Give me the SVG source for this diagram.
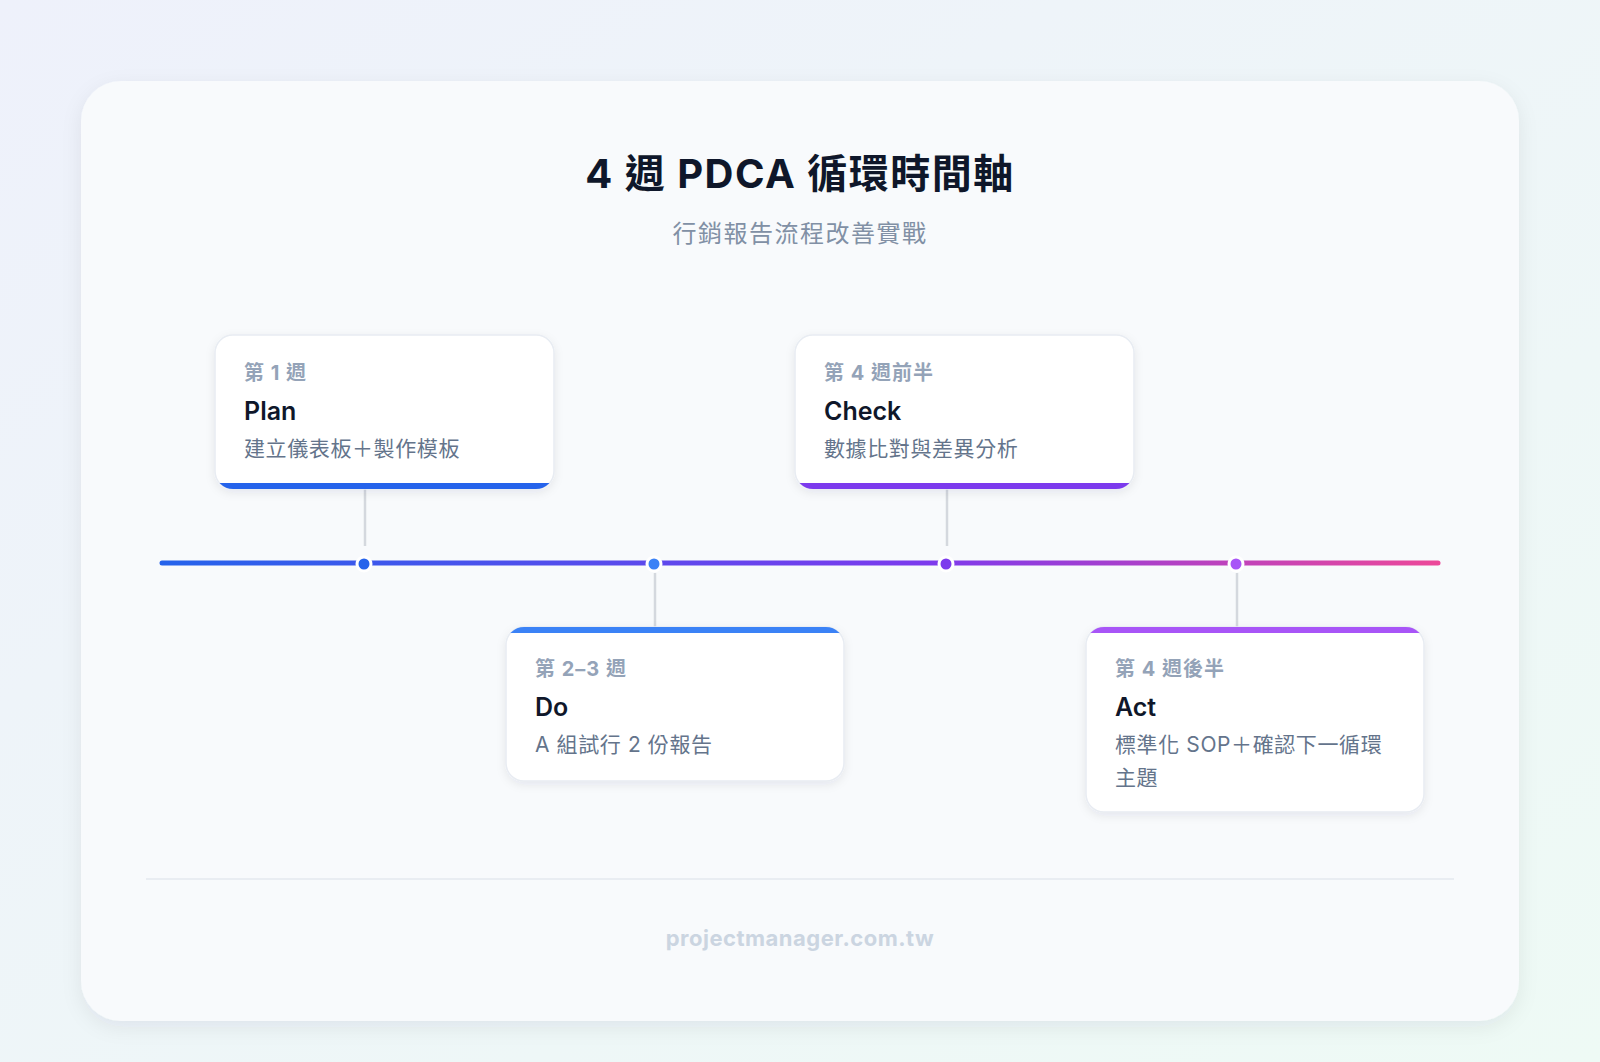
<svg xmlns="http://www.w3.org/2000/svg" width="1600" height="1062" viewBox="0 0 1600 1062">
<defs>
<linearGradient id="bg" x1="0" y1="0" x2="1" y2="1"><stop offset="0" stop-color="#eef1fb"/><stop offset="1" stop-color="#eefaf5"/></linearGradient>
<linearGradient id="tl" x1="162" y1="0" x2="1438" y2="0" gradientUnits="userSpaceOnUse"><stop offset="0" stop-color="#2563eb"/><stop offset="0.6" stop-color="#7c3aed"/><stop offset="1" stop-color="#ec4899"/></linearGradient>
<filter id="sh" x="-10%" y="-10%" width="120%" height="130%"><feDropShadow dx="0" dy="6" stdDeviation="10" flood-color="#1e293b" flood-opacity="0.07"/></filter>
<filter id="sh2" x="-10%" y="-10%" width="120%" height="130%"><feDropShadow dx="0" dy="3" stdDeviation="5" flood-color="#1e293b" flood-opacity="0.08"/></filter>
<clipPath id="c1"><rect x="215" y="335" width="339" height="154" rx="18"/></clipPath>
<clipPath id="c2"><rect x="506" y="627" width="338" height="154" rx="18"/></clipPath>
<clipPath id="c3"><rect x="795" y="335" width="339" height="154" rx="18"/></clipPath>
<clipPath id="c4"><rect x="1086" y="627" width="338" height="185" rx="18"/></clipPath>
</defs>
<style>
text{font-family:"Inter","Noto Sans CJK TC",sans-serif}
.card{fill:#fff;stroke:#e8ecf2;stroke-width:1.5}
.lab{font-size:20px;font-weight:700;fill:#94a3b8;letter-spacing:1px}
.ttl{font-size:25px;font-weight:600;fill:#0f172a}
.dsc{font-size:21px;fill:#64748b;letter-spacing:0.6px}
.stem{stroke:#d4d8de;stroke-width:2.5}
.dot{stroke:#fff;stroke-width:3}
</style>
<rect width="1600" height="1062" fill="url(#bg)"/>
<rect x="81" y="81" width="1438" height="940" rx="40" fill="#f8fafc" filter="url(#sh)"/>
<text x="800" y="188" text-anchor="middle" font-size="40" font-weight="700" fill="#0f172a" letter-spacing="1.5">4 週 PDCA 循環時間軸</text>
<text x="800" y="242" text-anchor="middle" font-size="24" fill="#8190a5" letter-spacing="1.5">行銷報告流程改善實戰</text>
<g id="connectors">
<line class="stem" x1="365" y1="489" x2="365" y2="546"/>
<line class="stem" x1="655" y1="573" x2="655" y2="627"/>
<line class="stem" x1="947" y1="489" x2="947" y2="546"/>
<line class="stem" x1="1237" y1="573" x2="1237" y2="627"/>
<line x1="162" y1="563" x2="1438" y2="563" stroke="url(#tl)" stroke-width="5" stroke-linecap="round"/>
<circle class="dot" cx="364" cy="564" r="7" fill="#2563eb"/>
<circle class="dot" cx="654" cy="564" r="7" fill="#3b82f6"/>
<circle class="dot" cx="946" cy="564" r="7" fill="#7c3aed"/>
<circle class="dot" cx="1236" cy="564" r="7" fill="#a855f7"/>
</g>
<g id="plan">
<rect class="card" x="215" y="335" width="339" height="154" rx="18" filter="url(#sh2)"/>
<rect x="215" y="483" width="339" height="6" fill="#2563eb" clip-path="url(#c1)"/>
<text class="lab" x="244" y="380">第 1 週</text>
<text class="ttl" x="244" y="420">Plan</text>
<text class="dsc" x="244" y="456">建立儀表板＋製作模板</text>
</g>
<g id="do">
<rect class="card" x="506" y="627" width="338" height="154" rx="18" filter="url(#sh2)"/>
<rect x="506" y="627" width="338" height="6" fill="#3b82f6" clip-path="url(#c2)"/>
<text class="lab" x="535" y="676">第 2–3 週</text>
<text class="ttl" x="535" y="716">Do</text>
<text class="dsc" x="535" y="752">A 組試行 2 份報告</text>
</g>
<g id="check">
<rect class="card" x="795" y="335" width="339" height="154" rx="18" filter="url(#sh2)"/>
<rect x="795" y="483" width="339" height="6" fill="#7c3aed" clip-path="url(#c3)"/>
<text class="lab" x="824" y="380">第 4 週前半</text>
<text class="ttl" x="824" y="420">Check</text>
<text class="dsc" x="824" y="456">數據比對與差異分析</text>
</g>
<g id="act">
<rect class="card" x="1086" y="627" width="338" height="185" rx="18" filter="url(#sh2)"/>
<rect x="1086" y="627" width="338" height="6" fill="#a855f7" clip-path="url(#c4)"/>
<text class="lab" x="1115" y="676">第 4 週後半</text>
<text class="ttl" x="1115" y="716">Act</text>
<text class="dsc" x="1115" y="752">標準化 SOP＋確認下一循環</text>
<text class="dsc" x="1115" y="785">主題</text>
</g>
<line x1="146" y1="879" x2="1454" y2="879" stroke="#e5e9ef" stroke-width="1.5"/>
<text x="800" y="946" text-anchor="middle" font-size="22" font-weight="700" fill="#cbd5e1" letter-spacing="0.5">projectmanager.com.tw</text>
</svg>
